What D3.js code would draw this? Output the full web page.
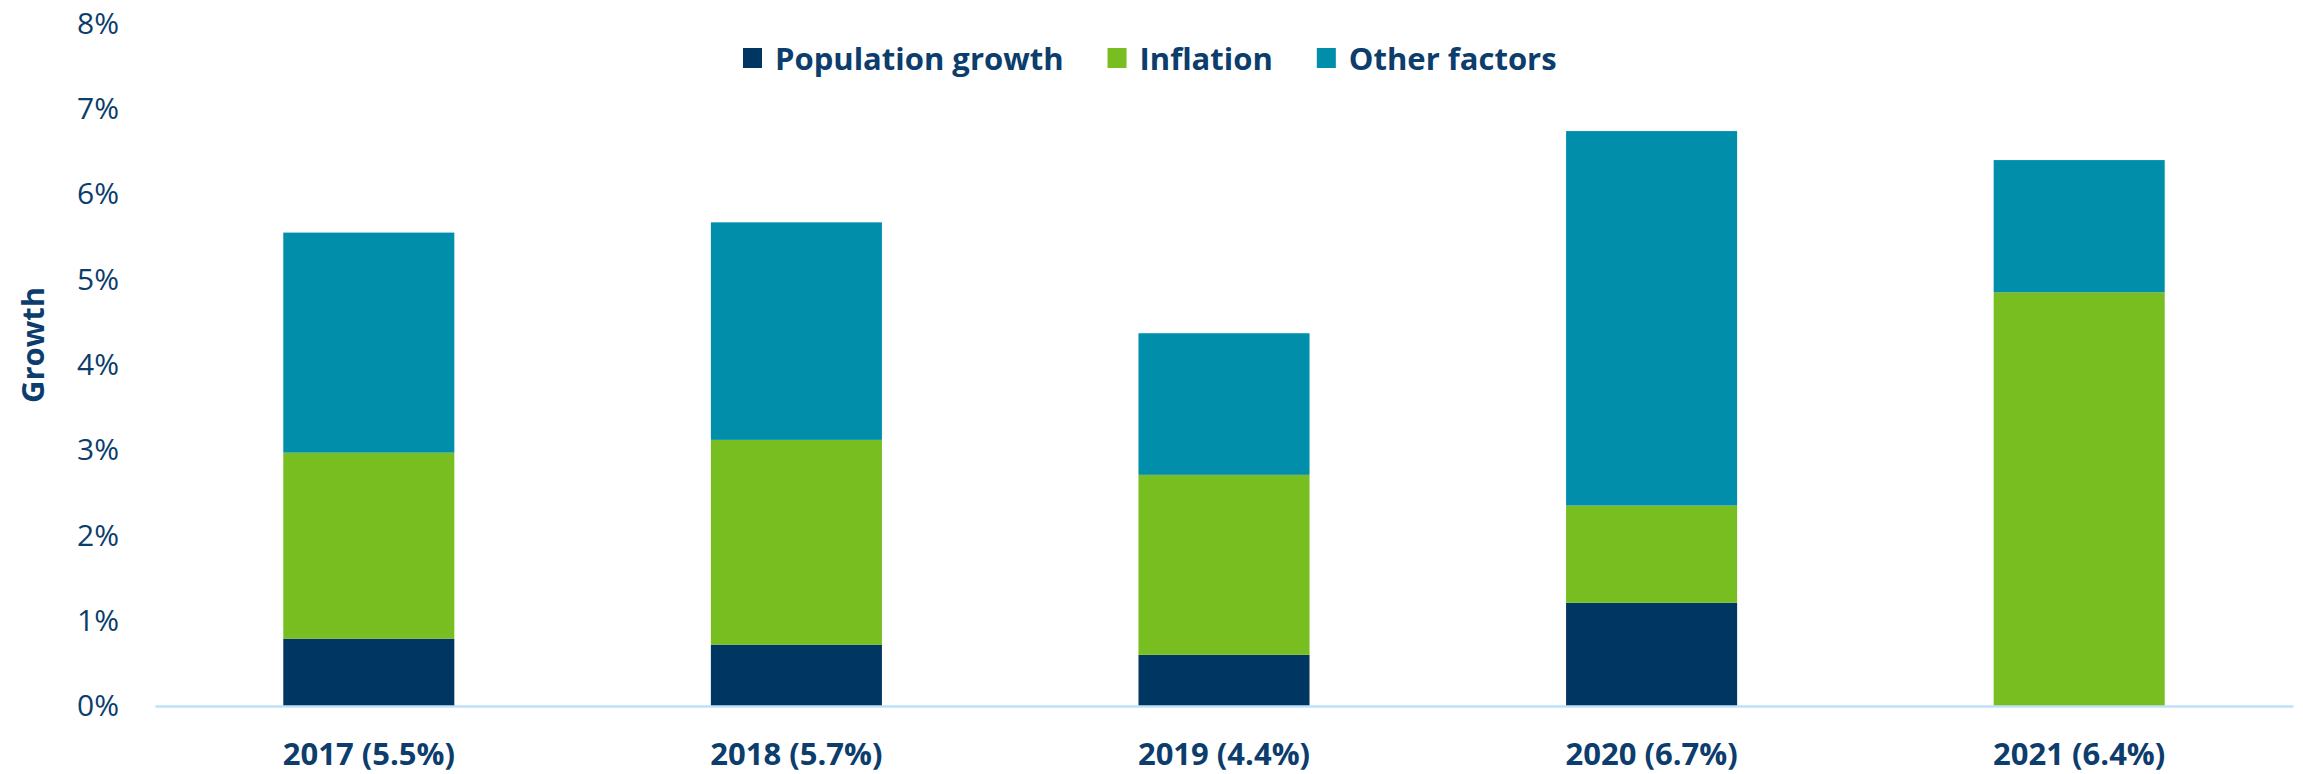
<!DOCTYPE html>
<html>
<head>
<meta charset="utf-8">
<script src="https://cdn.jsdelivr.net/npm/d3@7"></script>
<style>
  body { margin: 0; background: #fff; }
  text { font-family: "Open Sans", sans-serif; fill: #0c3d6c; }
</style>
</head>
<body>
<svg id="chart" width="2303" height="774"></svg>
<script>
var years = ["2017 (5.5%)", "2018 (5.7%)", "2019 (4.4%)", "2020 (6.7%)", "2021 (6.4%)"];
var population = [0.79, 0.72, 0.60, 1.21, 0.00];
var inflation = [2.18, 2.40, 2.11, 1.14, 4.85];
var other = [2.58, 2.55, 1.66, 4.39, 1.55];
var seriesNames = ["Population growth", "Inflation", "Other factors"];
var yTicks = [0, 1, 2, 3, 4, 5, 6, 7, 8];

var colors = ["#003662", "#78be20", "#008eaa"];

var svg = d3.select("#chart"),
    margin = {top: 23.6, right: 10, bottom: 68, left: 155},
    width = 2303 - margin.left - margin.right,
    height = 774 - margin.top - margin.bottom,
    g = svg.append("g").attr("transform", "translate(" + margin.left + "," + margin.top + ")");

var x = d3.scaleBand()
    .domain(years)
    .range([0, width])
    .paddingInner(0.6)
    .paddingOuter(0.3);

var y = d3.scaleLinear()
    .domain([0, 8])
    .range([height, 0]);

// stack the three series
var rows = years.map(function (d, i) {
    return {year: d, "Population growth": population[i], "Inflation": inflation[i], "Other factors": other[i]};
});
var stacked = d3.stack().keys(seriesNames)(rows);

g.selectAll(".layer")
    .data(stacked)
    .enter().append("g")
    .attr("class", "layer")
    .attr("fill", function (d, i) { return colors[i]; })
    .selectAll("rect")
    .data(function (d) { return d; })
    .enter().append("rect")
    .attr("x", function (d) { return x(d.data.year); })
    .attr("width", x.bandwidth())
    .attr("y", function (d) { return y(d[1]); })
    .attr("height", function (d) { return y(d[0]) - y(d[1]); });

// y axis labels only
var yAxis = g.append("g")
    .attr("class", "y axis")
    .call(d3.axisLeft(y).tickValues(yTicks).tickSize(0).tickPadding(36).tickFormat(function (d) { return d + "%"; }));
yAxis.select(".domain").remove();
yAxis.selectAll("text")
    .style("font-size", "30px")
    .attr("fill", "#0c3d6c");

// x axis
var xAxis = g.append("g")
    .attr("class", "x axis")
    .attr("transform", "translate(0," + height + ")")
    .call(d3.axisBottom(x).tickSize(0).tickPadding(37));
xAxis.select(".domain")
    .attr("stroke", "#bfe2f8")
    .attr("stroke-width", 2.5);
xAxis.selectAll("text")
    .style("font-size", "31px")
    .style("font-weight", "bold")
    .attr("fill", "#0c3d6c");

// y title
svg.append("text")
    .attr("transform", "translate(32," + 345 + ") rotate(-90)")
    .attr("text-anchor", "middle")
    .attr("dominant-baseline", "central")
    .style("font-size", "31px")
    .style("font-weight", "bold")
    .text("Growth");

// legend
var legend = svg.append("g").attr("transform", "translate(743,58)");
var lx = 0;
seriesNames.forEach(function (name, i) {
    var item = legend.append("g").attr("transform", "translate(" + lx + ",0)");
    item.append("rect")
        .attr("x", 0)
        .attr("y", -10)
        .attr("width", 19)
        .attr("height", 20)
        .attr("fill", colors[i]);
    var t = item.append("text")
        .attr("x", 32)
        .attr("dominant-baseline", "central")
        .style("font-size", "31px")
        .style("font-weight", "bold")
        .text(name);
    lx += 32 + t.node().getComputedTextLength() + 44;
});
</script>
</body>
</html>
